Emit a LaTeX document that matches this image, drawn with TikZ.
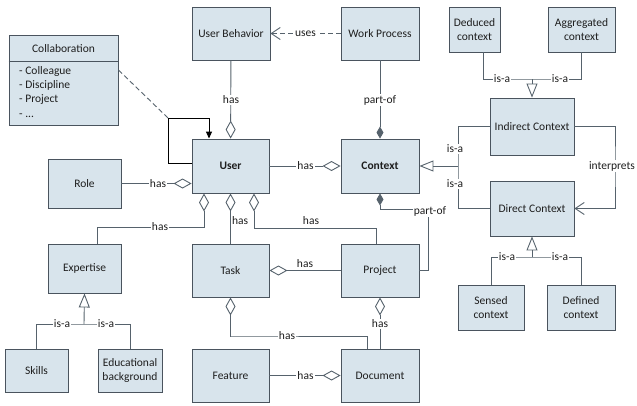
\documentclass[tikz,border=0pt]{standalone}
\usepackage{fontspec}
\setmainfont{Carlito}
\usetikzlibrary{arrows.meta,calc}
\definecolor{boxfill}{RGB}{216,228,236}
\definecolor{boxdraw}{RGB}{74,84,94}
\definecolor{linec}{RGB}{86,98,108}
\definecolor{txt}{RGB}{30,30,30}
\tikzset{
  fnt/.style={font=\fontsize{11.5}{13.8}\selectfont, text=txt},
  box/.style={fnt, draw=boxdraw, fill=boxfill, line width=0.9pt, inner sep=2pt, align=center},
  conn/.style={draw=linec, line width=0.9pt},
  lbl/.style={fnt, fill=white, inner sep=1pt},
  lblnf/.style={fnt, inner sep=1pt},
  aggE/.style={-{Diamond[open,length=18pt,width=10pt,line width=0.9pt]}},
  aggS/.style={{Diamond[open,length=18pt,width=10pt,line width=0.9pt]}-},
  compE/.style={-{Diamond[length=12pt,width=7pt]}},
  isaE/.style={-{Triangle[open,length=14pt,width=11pt,line width=0.9pt]}},
  barbE/.style={-{Straight Barb[length=9pt,width=12pt,line width=0.9pt]}},
  solidE/.style={-{Triangle[length=7pt,width=6pt]}}
}
\begin{document}
\begin{tikzpicture}[x=1pt,y=-1pt]
\useasboundingbox (0,0) rectangle (637,405);

% Boxes
\node[box, minimum width=109pt, minimum height=90pt] (collab) at (63.5,80) {};
\node[box, minimum width=78pt, minimum height=53pt] (ub) at (231,33.5) {User Behavior};
\node[box, minimum width=78pt, minimum height=53pt] (wp) at (380,33.5) {Work Process};
\node[box, minimum width=51pt, minimum height=45pt] (ded) at (474.5,29.5) {Deduced\\context};
\node[box, minimum width=67pt, minimum height=45pt] (agg) at (581.5,29.5) {Aggregated\\context};
\node[box, minimum width=84pt, minimum height=57pt] (ind) at (532,126.5) {Indirect Context};
\node[box, minimum width=77pt, minimum height=54pt, font=\fontsize{11.5}{13.8}\selectfont\bfseries] (user) at (230.5,166) {User};
\node[box, minimum width=78pt, minimum height=54pt, font=\fontsize{11.5}{13.8}\selectfont\bfseries] (ctx) at (380,166) {Context};
\node[box, minimum width=73pt, minimum height=49pt] (role) at (84.5,183.5) {Role};
\node[box, minimum width=84pt, minimum height=55pt] (dir) at (532,208.5) {Direct Context};
\node[box, minimum width=66pt, minimum height=45pt] (sensed) at (491,307.5) {Sensed\\context};
\node[box, minimum width=68pt, minimum height=45pt] (defined) at (581,307.5) {Defined\\context};
\node[box, minimum width=78pt, minimum height=53pt] (project) at (380,270.5) {Project};
\node[box, minimum width=78pt, minimum height=53pt] (doc) at (380,375.5) {Document};
\node[box, minimum width=73pt, minimum height=49pt] (exp) at (84.5,268.5) {Expertise};
\node[box, minimum width=77pt, minimum height=53pt] (task) at (230.5,270.5) {Task};
\node[box, minimum width=63pt, minimum height=43pt] (skills) at (36.5,370.5) {Skills};
\node[box, minimum width=64pt, minimum height=43pt] (edu) at (130,370.5) {Educational\\background};
\node[box, minimum width=77pt, minimum height=53pt] (feat) at (230.5,375.5) {Feature};

% Collaboration content
\draw[boxdraw, line width=0.9pt] ($(collab.north west)+(0,27)$) -- ($(collab.north east)+(0,27)$);
\node[fnt] (collabt) at (63.5,49) {Collaboration};
\node[fnt, anchor=north west, align=left, inner sep=0pt, font=\fontsize{11.5}{14.3}\selectfont] (collabl) at (19,66) {- Colleague\\- Discipline\\- Project\\- ...};

% Coordinates
\coordinate (loopA) at (168,118);
\coordinate (pofc) at (428,209);
\coordinate (isa1) at (458,166);
\coordinate (intA) at (615,166);
\coordinate (isb) at (532,79);
\coordinate (isc) at (532,257);
\coordinate (isd) at (84,324);
\coordinate (ua) at (204,227);
\coordinate (uc) at (254,228);
\coordinate (tb) at (231,336);

% Top connectors
\draw[conn, aggE] (ub) -- (user);
\node[lbl] at (231,100) {has};
\draw[conn, compE] (wp) -- (ctx);
\node[lbl] at (380,100) {part-of};
\draw[conn, barbE, dashed, dash pattern=on 5pt off 3pt] (wp.west) -- (ub.east);
\node[lbl] at (305.5,33.5) {uses};

% Collaboration association
\draw[conn, dashed, dash pattern=on 5pt off 3pt] ([yshift=10pt]collab.east) -- (loopA);
\draw[draw=black, line width=1pt, solidE] ([yshift=3pt]user.west) -| (loopA) -| ([xshift=-21.5pt]user.north);

% Role, Context
\draw[conn, aggE] (role.east) -- (role.east -| user.west);
\node[lbl] at (158,183.5) {has};
\draw[conn, aggE] (user.east) -- (ctx.west);
\node[lbl] at (305.5,166) {has};

% User bottom
\draw[conn, aggS] ([xshift=-26.5pt]user.south) |- (ua) -| ([xshift=12.5pt]exp.north);
\node[lbl] at (160,227) {has};
\draw[conn, aggS] (user.south) -- (task.north);
\node[lblnf, anchor=west] at (231,221) {has};
\draw[conn, aggS] ([xshift=23.5pt]user.south) |- (uc) -| ([xshift=-4pt]project.north);
\node[lblnf] at (311,220.5) {has};

% Task, Project, Document
\draw[conn, aggS] (task.east) -- (project.west);
\node[lblnf] at (305,263.5) {has};
\draw[conn, aggS] (task.south) |- (tb) -| ([xshift=-13pt]doc.north);
\node[lbl] at (287,336) {has};
\draw[conn, aggS] (project.south) -- (doc.north);
\node[lbl] at (380,324) {has};
\draw[conn, aggE] (feat.east) -- (doc.west);
\node[lbl] at (305.5,375.5) {has};

% Context part-of Project
\draw[conn, compE] (project.east) -| (pofc) -| (ctx.south);
\node[lbl] at (430,211) {part-of};

% Indirect / Direct is-a Context
\draw[conn, isaE] (isa1) -- (ctx.east);
\draw[conn] (ind.west) -| (isa1) |- (dir.west);
\node[lbl] at (455,149) {is-a};
\node[lbl] at (455,184) {is-a};

% interprets
\draw[conn, barbE] (ind.east) -| (intA) |- (dir.east);
\node[lbl] at (612,166) {interprets};

% Deduced / Aggregated
\draw[conn, isaE] (isb) -- (ind.north);
\draw[conn] ([xshift=8.5pt]ded.south) |- (isb) -| (agg.south);
\node[lbl] at (502,79) {is-a};
\node[lbl] at (560,79) {is-a};

% Sensed / Defined
\draw[conn, isaE] (isc) -- (dir.south);
\draw[conn] (sensed.north) |- (isc) -| (defined.north);
\node[lbl] at (507,257) {is-a};
\node[lbl] at (560,257) {is-a};

% Skills / Educational
\draw[conn, isaE] (isd) -- (exp.south);
\draw[conn] (skills.north) |- (isd) -| (edu.north);
\node[lbl] at (62,324) {is-a};
\node[lbl] at (106,324) {is-a};
\end{tikzpicture}
\end{document}
